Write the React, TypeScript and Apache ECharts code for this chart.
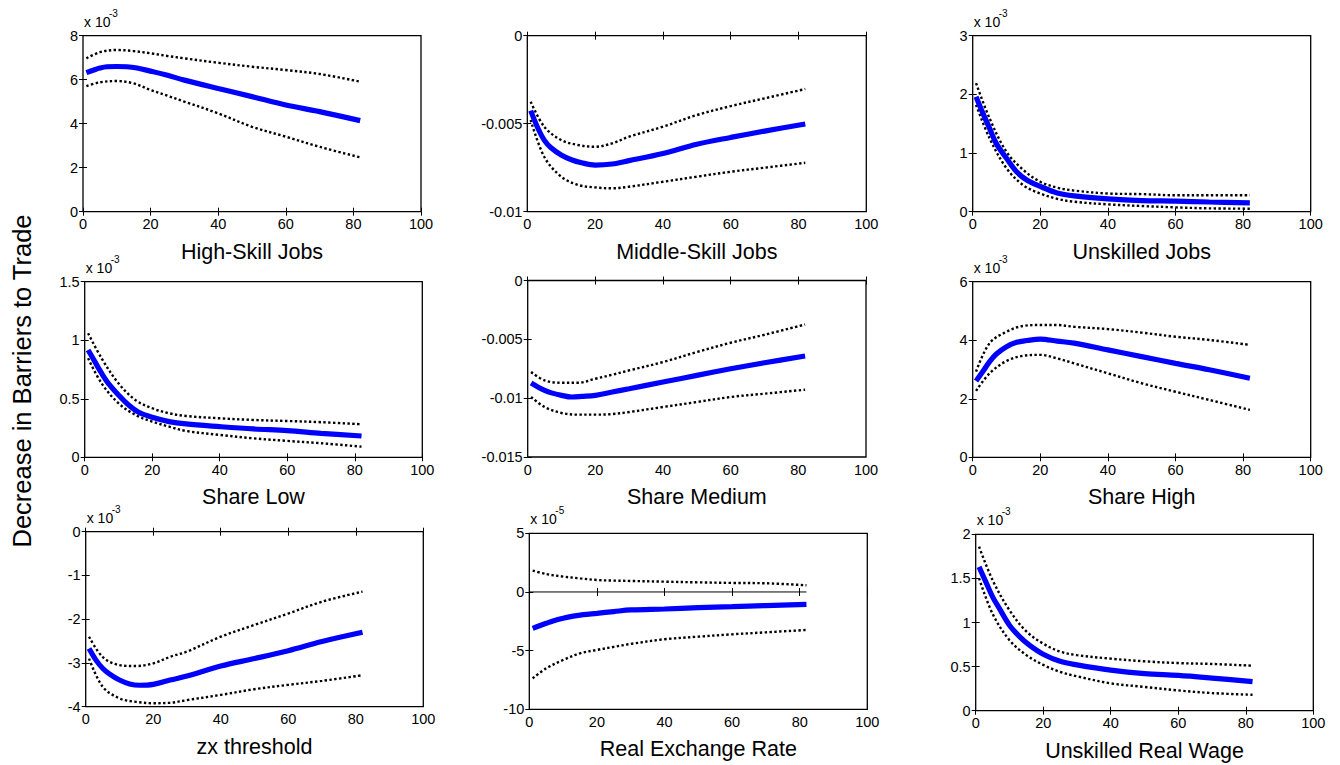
import React, { useEffect, useRef } from "react";
import * as echarts from "echarts";

// ---------- DATA ----------
const MEAN_X = [1, 3, 5, 7, 10, 13, 16, 20, 25, 30, 40, 50, 60, 70, 82];
const BAND_X = [1, 5, 10, 15, 20, 25, 30, 40, 50, 60, 70, 82];
const ZERO_X = [0, 82];
const ZERO_Y = [0, 0];

const TITLES = [
  "High-Skill Jobs",
  "Middle-Skill Jobs",
  "Unskilled Jobs",
  "Share Low",
  "Share Medium",
  "Share High",
  "zx threshold",
  "Real Exchange Rate",
  "Unskilled Real Wage",
];
const Y_LABEL = "Decrease in Barriers to Trade";

// exponent shown as "x 10^exp" (null = none)
const EXPONENTS = ["-3", null, "-3", "-3", null, "-3", "-3", "-5", "-3"];
const Y_MIN = [0, -0.01, 0, 0, -0.015, 0, -4, -10, 0];
const Y_MAX = [8, 0, 3, 1.5, 0, 6, 0, 5, 2];
const Y_STEP = [2, 0.005, 1, 0.5, 0.005, 2, 1, 5, 0.5];

// High-Skill Jobs (x 10^-3)
const highSkillMean = [6.32, 6.43, 6.53, 6.59, 6.6, 6.59, 6.53, 6.39, 6.2, 5.98, 5.6, 5.23, 4.85, 4.55, 4.14];
const highSkillUpper = [6.97, 7.25, 7.35, 7.3, 7.2, 7.08, 6.97, 6.77, 6.59, 6.44, 6.26, 5.91];
const highSkillLower = [5.71, 5.88, 5.94, 5.83, 5.53, 5.27, 5.0, 4.47, 3.86, 3.41, 2.95, 2.47];

// Middle-Skill Jobs
const middleSkillMean = [-0.00426, -0.0052, -0.00593, -0.00637, -0.00678, -0.00705, -0.00722, -0.00735, -0.00729, -0.0071, -0.00669, -0.00617, -0.00578, -0.00542, -0.00502];
const middleSkillUpper = [-0.00375, -0.00517, -0.00593, -0.00621, -0.00631, -0.00612, -0.00574, -0.00517, -0.00451, -0.004, -0.00356, -0.00303];
const middleSkillLower = [-0.00479, -0.00688, -0.00801, -0.00848, -0.00862, -0.00867, -0.00858, -0.0083, -0.00801, -0.00773, -0.0075, -0.00722];

// Unskilled Jobs (x 10^-3)
const unskilledMean = [1.96, 1.68, 1.42, 1.16, 0.91, 0.68, 0.54, 0.43, 0.32, 0.27, 0.22, 0.19, 0.18, 0.165, 0.15];
const unskilledUpper = [2.19, 1.59, 1.02, 0.71, 0.51, 0.41, 0.36, 0.31, 0.3, 0.28, 0.28, 0.28];
const unskilledLower = [1.82, 1.25, 0.74, 0.45, 0.31, 0.22, 0.17, 0.125, 0.097, 0.074, 0.057, 0.051];

// Share Low (x 10^-3)
const shareLowMean = [0.917, 0.817, 0.718, 0.632, 0.533, 0.447, 0.385, 0.342, 0.305, 0.285, 0.262, 0.242, 0.228, 0.205, 0.182];
const shareLowUpper = [1.06, 0.846, 0.632, 0.49, 0.419, 0.376, 0.353, 0.333, 0.319, 0.31, 0.3, 0.282];
const shareLowLower = [0.846, 0.632, 0.462, 0.362, 0.305, 0.262, 0.225, 0.191, 0.162, 0.14, 0.12, 0.091];

// Share Medium
const shareMediumMean = [-0.00872, -0.00905, -0.00934, -0.00955, -0.00976, -0.0099, -0.00985, -0.00976, -0.00948, -0.0092, -0.00863, -0.00806, -0.0075, -0.00699, -0.00642];
const shareMediumUpper = [-0.00778, -0.00849, -0.00869, -0.00869, -0.00835, -0.00801, -0.00764, -0.00693, -0.00608, -0.00529, -0.00461, -0.00374];
const shareMediumLower = [-0.0099, -0.01075, -0.01126, -0.0114, -0.0114, -0.01135, -0.01118, -0.01075, -0.01033, -0.0099, -0.00962, -0.00928];

// Share High (x 10^-3)
const shareHighMean = [2.61, 2.93, 3.27, 3.53, 3.78, 3.93, 3.99, 4.04, 3.97, 3.9, 3.67, 3.44, 3.21, 2.99, 2.7];
const shareHighUpper = [2.93, 3.9, 4.29, 4.49, 4.52, 4.52, 4.46, 4.38, 4.26, 4.12, 4.01, 3.84];
const shareHighLower = [2.27, 2.87, 3.29, 3.47, 3.5, 3.38, 3.21, 2.87, 2.53, 2.24, 1.96, 1.62];

// zx threshold (x 10^-3)
const zxMean = [-2.67, -2.93, -3.12, -3.25, -3.39, -3.48, -3.51, -3.49, -3.39, -3.3, -3.07, -2.9, -2.72, -2.51, -2.3];
const zxUpper = [-2.4, -2.86, -3.05, -3.07, -3.01, -2.86, -2.74, -2.4, -2.13, -1.87, -1.6, -1.37];
const zxLower = [-2.9, -3.54, -3.81, -3.89, -3.92, -3.91, -3.85, -3.73, -3.6, -3.5, -3.41, -3.28];

// Real Exchange Rate (x 10^-5)
const rerMean = [-3.1, -2.88, -2.67, -2.47, -2.24, -2.06, -1.93, -1.82, -1.67, -1.53, -1.45, -1.34, -1.25, -1.16, -1.05];
const rerUpper = [1.82, 1.53, 1.31, 1.16, 1.02, 0.97, 0.94, 0.88, 0.82, 0.77, 0.74, 0.57];
const rerLower = [-7.36, -6.51, -5.8, -5.23, -4.94, -4.68, -4.43, -4.03, -3.81, -3.61, -3.44, -3.24];

// Unskilled Real Wage (x 10^-3)
const wageMean = [1.63, 1.46, 1.29, 1.16, 0.97, 0.84, 0.74, 0.64, 0.56, 0.52, 0.46, 0.42, 0.4, 0.37, 0.33];
const wageUpper = [1.86, 1.48, 1.14, 0.9, 0.76, 0.67, 0.63, 0.59, 0.56, 0.54, 0.53, 0.51];
const wageLower = [1.5, 1.1, 0.8, 0.63, 0.52, 0.44, 0.39, 0.31, 0.27, 0.23, 0.2, 0.18];

const MEANS = [highSkillMean, middleSkillMean, unskilledMean, shareLowMean, shareMediumMean, shareHighMean, zxMean, rerMean, wageMean];
const UPPERS = [highSkillUpper, middleSkillUpper, unskilledUpper, shareLowUpper, shareMediumUpper, shareHighUpper, zxUpper, rerUpper, wageUpper];
const LOWERS = [highSkillLower, middleSkillLower, unskilledLower, shareLowLower, shareMediumLower, shareHighLower, zxLower, rerLower, wageLower];
const ZERO_LINE_PANEL = 7;

// ---------- LAYOUT ----------
const GRIDS = [
  { left: 83, top: 35.7, width: 338, height: 176 },
  { left: 527.3, top: 35.7, width: 339, height: 176 },
  { left: 972.7, top: 35.7, width: 338, height: 176 },
  { left: 84.7, top: 281.7, width: 337.6, height: 175.6 },
  { left: 527.7, top: 280.5, width: 338.3, height: 176.5 },
  { left: 972.7, top: 281.7, width: 338, height: 175.6 },
  { left: 85.7, top: 531.7, width: 337.6, height: 175 },
  { left: 529.3, top: 533.3, width: 338, height: 176 },
  { left: 975.7, top: 534.3, width: 337.6, height: 176.4 },
];

const FONT = '"Liberation Sans", Arial, Helvetica, sans-serif';
const fmt = (v: number) => String(parseFloat(Number(v).toPrecision(10)));

function buildOption() {
  const grid: any[] = [];
  const xAxis: any[] = [];
  const yAxis: any[] = [];
  const series: any[] = [];
  const graphic: any[] = [];

  GRIDS.forEach((g, i) => {
    grid.push({
      left: g.left,
      top: g.top,
      width: g.width,
      height: g.height,
      show: true,
      borderColor: "#000",
      borderWidth: 1.3,
      backgroundColor: "#fff",
    });
    const tick = { show: true, inside: true, length: 4, lineStyle: { color: "#000", width: 1 } };
    ["bottom", "top"].forEach((pos) => {
      xAxis.push({
        gridIndex: i,
        type: "value",
        position: pos,
        min: 0,
        max: 100,
        interval: 20,
        axisLine: { show: false },
        axisTick: tick,
        splitLine: { show: false },
        axisLabel: {
          show: pos === "bottom",
          color: "#000",
          fontSize: 14.5,
          fontFamily: FONT,
          margin: 5,
          formatter: fmt,
        },
      });
    });
    ["left", "right"].forEach((pos) => {
      yAxis.push({
        gridIndex: i,
        type: "value",
        position: pos,
        min: Y_MIN[i],
        max: Y_MAX[i],
        interval: Y_STEP[i],
        axisLine: { show: false },
        axisTick: tick,
        splitLine: { show: false },
        axisLabel: {
          show: pos === "left",
          color: "#000",
          fontSize: 14.5,
          fontFamily: FONT,
          margin: 5,
          formatter: fmt,
        },
      });
    });

    const xi = i * 2;
    const yi = i * 2;
    if (i === ZERO_LINE_PANEL) {
      series.push({
        type: "line",
        xAxisIndex: xi,
        yAxisIndex: yi,
        data: ZERO_X.map((x, j) => [x, ZERO_Y[j]]),
        showSymbol: false,
        lineStyle: { color: "#000", width: 1 },
        silent: true,
      });
    }
    [UPPERS[i], LOWERS[i]].forEach((arr) => {
      series.push({
        type: "line",
        xAxisIndex: xi,
        yAxisIndex: yi,
        data: BAND_X.map((x, j) => [x, arr[j]]),
        showSymbol: false,
        smooth: 0.35,
        lineStyle: { color: "#000", width: 2.4, type: [2.4, 2.4] },
        silent: true,
      });
    });
    series.push({
      type: "line",
      xAxisIndex: xi,
      yAxisIndex: yi,
      data: MEAN_X.map((x, j) => [x, MEANS[i][j]]),
      showSymbol: false,
      smooth: 0.35,
      lineStyle: { color: "#0000ff", width: 5.2 },
      silent: true,
    });

    graphic.push({
      type: "text",
      x: g.left + g.width / 2,
      y: g.top + g.height + 40,
      style: {
        text: TITLES[i],
        fill: "#000",
        font: `21.5px ${FONT}`,
        textAlign: "center",
        textVerticalAlign: "middle",
      },
    });
    const ex = EXPONENTS[i];
    if (ex) {
      graphic.push({
        type: "text",
        x: g.left + 1,
        y: g.top - 14,
        style: {
          text: "x 10",
          fill: "#000",
          font: `14px ${FONT}`,
          textAlign: "left",
          textVerticalAlign: "middle",
        },
      });
      graphic.push({
        type: "text",
        x: g.left + 26,
        y: g.top - 22.5,
        style: {
          text: ex,
          fill: "#000",
          font: `10px ${FONT}`,
          textAlign: "left",
          textVerticalAlign: "middle",
        },
      });
    }
  });

  graphic.push({
    type: "text",
    x: 22,
    y: 381,
    rotation: Math.PI / 2,
    style: {
      text: Y_LABEL,
      fill: "#000",
      font: `25.5px ${FONT}`,
      textAlign: "center",
      textVerticalAlign: "middle",
    },
  });

  return {
    animation: false,
    backgroundColor: "#fff",
    grid,
    xAxis,
    yAxis,
    series,
    graphic,
  };
}

export default function App() {
  const ref = useRef<HTMLDivElement>(null);
  useEffect(() => {
    if (!ref.current) return;
    const chart = echarts.init(ref.current, undefined, { renderer: "svg" });
    chart.setOption(buildOption() as any);
    return () => chart.dispose();
  }, []);
  return (
    <div
      ref={ref}
      style={{ position: "absolute", left: 0, top: 0, width: 1340, height: 765, background: "#fff" }}
    />
  );
}
